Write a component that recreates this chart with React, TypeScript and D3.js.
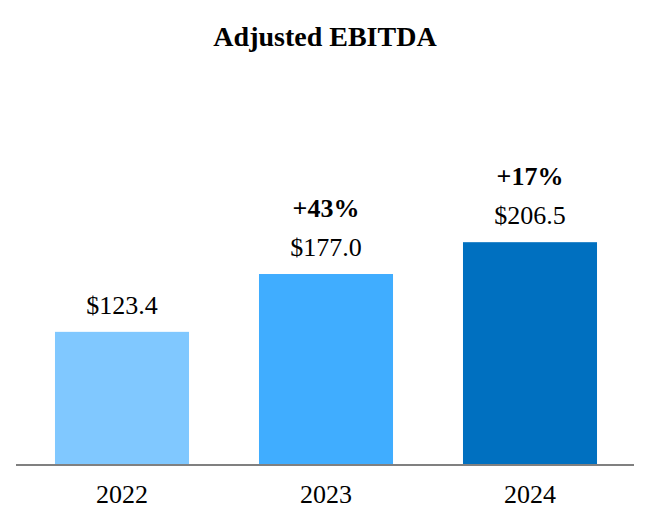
import React from "react";
import * as d3 from "d3";

const years = ["2022", "2023", "2024"];
const ebitda = [123.4, 177.0, 206.5];
const growth = ["", "+43%", "+17%"];
const barColors = ["#80C8FF", "#40ADFF", "#0070C0"];

const W = 652;
const H = 532;
const baseY = 465;
const serif = { fontFamily: '"Liberation Serif", "Times New Roman", Times, serif' };

export default function App() {
  const x = d3
    .scaleBand<string>()
    .domain(years)
    .range([20, 632])
    .paddingInner(0.343)
    .paddingOuter(0.1715);

  const y = d3.scaleLinear().domain([0, 250]).range([baseY, 195.25]);

  return (
    <svg
      width={W}
      height={H}
      style={{ position: "absolute", left: 0, top: 0, background: "#fff" }}
    >
      <text x={325} y={46} textAnchor="middle" fontSize={28} fontWeight="bold" fill="#000" style={serif}>
        Adjusted EBITDA
      </text>
      {years.map((yr, i) => {
        const bx = x(yr) as number;
        const cx = bx + x.bandwidth() / 2;
        const top = y(ebitda[i]);
        return (
          <g key={yr}>
            <rect x={bx} y={top} width={x.bandwidth()} height={baseY - top} fill={barColors[i]} />
            <text x={cx} y={top - 18} textAnchor="middle" fontSize={26} fill="#000" style={serif}>
              {"$" + ebitda[i].toFixed(1)}
            </text>
            {growth[i] && (
              <text x={cx} y={top - 57} textAnchor="middle" fontSize={26} fontWeight="bold" fill="#000" style={serif}>
                {growth[i]}
              </text>
            )}
            <text x={cx} y={503} textAnchor="middle" fontSize={26} fill="#000" style={serif}>
              {yr}
            </text>
          </g>
        );
      })}
      <line x1={16} x2={634} y1={baseY} y2={baseY} stroke="#808080" strokeWidth={2} />
    </svg>
  );
}
